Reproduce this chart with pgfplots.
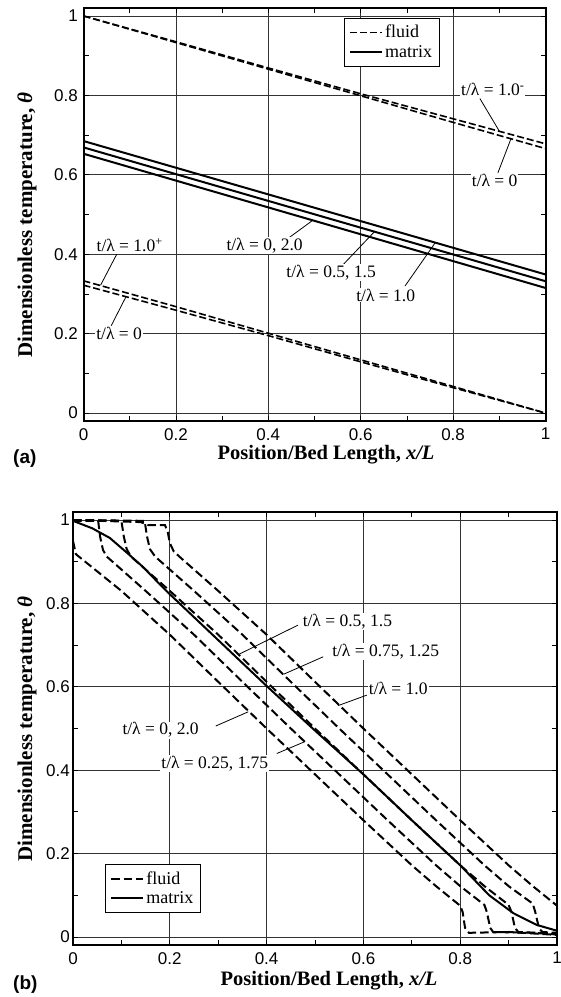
\documentclass[border=0pt]{standalone}
\usepackage{pgfplots}
\pgfplotsset{compat=1.18}
\usepackage{fontspec}
\setmainfont{Liberation Serif}
\setsansfont{Liberation Sans}

\tikzset{
  fl/.style={black, line width=2pt, dash pattern=on 8.5pt off 4pt},
  fla/.style={black, line width=1.6pt, dash pattern=on 7pt off 3pt},
  mx/.style={black, line width=2pt},
  ann/.style={font=\fontsize{17.5}{18}\selectfont, fill=white, inner sep=1pt},
  lead/.style={black, line width=0.8pt},
}
\pgfplotsset{
  panel/.style={
    scale only axis,
    xmin=0, xmax=1,
    xtick={0,0.2,0.4,0.6,0.8,1},
    xticklabels={0,0.2,0.4,0.6,0.8,1},
    ytick={0,0.2,0.4,0.6,0.8,1},
    yticklabels={0,0.2,0.4,0.6,0.8,1},
    minor xtick={0.1,0.3,0.5,0.7,0.9},
    minor ytick={0.1,0.3,0.5,0.7,0.9},
    grid=major,
    major grid style={black!80, line width=0.8pt},
    axis line style={line width=2pt},
    every tick/.style={black, line width=0.8pt},
    major tick length=5pt,
    minor tick length=5pt,
    tick align=inside,
    ticklabel style={font=\fontsize{17}{17}\selectfont\sffamily, inner sep=1pt},
    xticklabel style={yshift=-6pt},
    legend cell align=left,
    legend image code/.code={\draw[#1] (0pt,0pt) -- (32pt,0pt);},
    legend style={draw=black, line width=0.8pt, fill=white,
      font=\fontsize{18}{20}\selectfont, inner xsep=5pt, inner ysep=5pt, row sep=2pt},
  },
}

\begin{document}
\begin{tikzpicture}
\useasboundingbox (0pt,0pt) rectangle (561pt,997pt);

% ---------------- panel (a)
\begin{axis}[panel, at={(83.5pt,576pt)}, anchor=south west,
  width=462pt, height=413pt, ymin=-0.02, ymax=1.02,
  yticklabel style={xshift=-4.5pt},
  legend style={at={(axis cs:0.563,0.995)}, anchor=north west}]
\addlegendimage{fla}\addlegendentry{fluid}
\addlegendimage{mx}\addlegendentry{matrix}
% fluid, upper pair (t/lambda = 1.0- and 0)
\addplot[fla, forget plot] coordinates {(0,1.0) (0.2,0.935) (0.4,0.869) (0.6,0.804) (0.8,0.741) (1,0.678)};
\addplot[fla, forget plot] coordinates {(0,1.0) (0.2,0.933) (0.4,0.866) (0.6,0.799) (0.8,0.732) (1,0.666)};
% matrix (t/lambda = 1.0; 0.5,1.5; 0,2.0)
\addplot[mx, forget plot] coordinates {(0,0.685) (1,0.349)};
\addplot[mx, forget plot] coordinates {(0,0.669) (1,0.332)};
\addplot[mx, forget plot] coordinates {(0,0.653) (1,0.315)};
% fluid, lower pair (t/lambda = 1.0+ and 0)
\addplot[fla, forget plot] coordinates {(0,0.333) (0.2,0.268) (0.4,0.201) (0.6,0.134) (0.8,0.067) (1,0.0)};
\addplot[fla, forget plot] coordinates {(0,0.322) (0.2,0.259) (0.4,0.195) (0.6,0.129) (0.8,0.064) (1,0.0)};
% leaders
\draw[lead] (axis cs:0.858,0.792) -- (axis cs:0.900,0.710);
\draw[lead] (axis cs:0.897,0.605) -- (axis cs:0.925,0.690);
\draw[lead] (axis cs:0.072,0.400) -- (axis cs:0.037,0.322);
\draw[lead] (axis cs:0.060,0.220) -- (axis cs:0.092,0.293);
\draw[lead] (axis cs:0.443,0.440) -- (axis cs:0.497,0.486);
\draw[lead] (axis cs:0.563,0.375) -- (axis cs:0.630,0.457);
\draw[lead] (axis cs:0.696,0.320) -- (axis cs:0.762,0.430);
% labels
\node[ann] at (axis cs:0.886,0.814) {t/λ = 1.0\textsuperscript{-}};
\node[ann] at (axis cs:0.890,0.585) {t/λ = 0};
\node[ann] at (axis cs:0.100,0.423) {t/λ = 1.0\textsuperscript{+}};
\node[ann] at (axis cs:0.077,0.200) {t/λ = 0};
\node[ann] at (axis cs:0.392,0.421) {t/λ = 0, 2.0};
\node[ann] at (axis cs:0.536,0.353) {t/λ = 0.5, 1.5};
\node[ann] at (axis cs:0.654,0.297) {t/λ = 1.0};
\end{axis}

% ---------------- panel (b)
\begin{axis}[panel, at={(73pt,52pt)}, anchor=south west,
  width=484pt, height=433pt, ymin=-0.0192, ymax=1.0192,
  yticklabel style={xshift=-2pt},
  legend style={at={(axis cs:0.066,0.175)}, anchor=north west}]
\addlegendimage{fl}\addlegendentry{fluid}
\addlegendimage{mx}\addlegendentry{matrix}
% fluid t/lambda = 0, 2.0
\addplot[fl, forget plot] coordinates {(0,0.95) (0.006,0.918) (0.1,0.83) (0.2,0.725) (0.3,0.612) (0.4,0.5) (0.5,0.39) (0.6,0.28) (0.7,0.172) (0.75,0.122) (0.8,0.075) (0.805,0.06) (0.81,0.022) (0.818,0.01) (0.9,0.012) (1.0,0.005)};
% fluid t/lambda = 0.25, 1.75
\addplot[fl, forget plot] coordinates {(0,0.998) (0.052,0.998) (0.056,0.96) (0.062,0.928) (0.07,0.912) (0.15,0.83) (0.25,0.725) (0.35,0.612) (0.45,0.5) (0.55,0.39) (0.65,0.28) (0.75,0.172) (0.8,0.122) (0.85,0.077) (0.855,0.06) (0.862,0.022) (0.868,0.012) (0.95,0.01) (1.0,0.006)};
% fluid t/lambda = 0.5, 1.5
\addplot[fl, forget plot] coordinates {(0,1.0) (0.1,0.998) (0.105,0.96) (0.111,0.93) (0.12,0.912) (0.2,0.83) (0.3,0.725) (0.4,0.612) (0.5,0.5) (0.6,0.39) (0.7,0.28) (0.8,0.172) (0.85,0.122) (0.9,0.077) (0.906,0.06) (0.913,0.022) (0.92,0.012) (1.0,0.008)};
% fluid t/lambda = 0.75, 1.25
\addplot[fl, forget plot] coordinates {(0,1.0) (0.148,0.998) (0.153,0.96) (0.159,0.93) (0.17,0.912) (0.25,0.83) (0.35,0.725) (0.45,0.612) (0.55,0.5) (0.65,0.39) (0.75,0.28) (0.85,0.172) (0.9,0.122) (0.95,0.08) (0.955,0.06) (0.963,0.02) (0.97,0.012) (1.0,0.01)};
% fluid t/lambda = 1.0
\addplot[fl, forget plot] coordinates {(0,1.0) (0.14,0.995) (0.155,0.988) (0.19,0.988) (0.196,0.97) (0.2,0.945) (0.208,0.925) (0.22,0.912) (0.3,0.83) (0.4,0.725) (0.5,0.612) (0.6,0.5) (0.7,0.39) (0.8,0.28) (0.9,0.172) (0.95,0.122) (1.0,0.075)};
% matrix
\addplot[mx, forget plot] coordinates {(0,0.998) (0.04,0.98) (0.076,0.957) (0.11,0.923) (0.145,0.887) (0.18,0.845) (0.2,0.822) (0.3,0.712) (0.4,0.602) (0.5,0.495) (0.6,0.39) (0.7,0.28) (0.8,0.172) (0.86,0.1) (0.91,0.057) (0.958,0.029) (1.0,0.015)};
% leaders
\draw[lead] (axis cs:0.465,0.748) -- (axis cs:0.343,0.678);
\draw[lead] (axis cs:0.517,0.672) -- (axis cs:0.435,0.630);
\draw[lead] (axis cs:0.607,0.580) -- (axis cs:0.548,0.555);
\draw[lead] (axis cs:0.295,0.506) -- (axis cs:0.362,0.540);
\draw[lead] (axis cs:0.421,0.440) -- (axis cs:0.478,0.468);
% labels
\node[ann] at (axis cs:0.567,0.756) {t/λ = 0.5, 1.5};
\node[ann] at (axis cs:0.646,0.684) {t/λ = 0.75, 1.25};
\node[ann] at (axis cs:0.672,0.595) {t/λ = 1.0};
\node[ann] at (axis cs:0.181,0.496) {t/λ = 0, 2.0};
\node[ann] at (axis cs:0.293,0.4165) {t/λ = 0.25, 1.75};
\end{axis}

% ---------------- outer labels
\node[font=\fontsize{20.5}{21}\selectfont\bfseries, anchor=base, inner sep=0pt] at (326pt,537.5pt) {Position/Bed Length, \textit{x/L}};
\node[font=\fontsize{19}{19}\selectfont\sffamily\bfseries, anchor=base west, inner sep=0pt] at (13pt,533pt) {(a)};
\node[rotate=90, font=\fontsize{21}{21}\selectfont\bfseries] at (27pt,772pt) {Dimensionless temperature,\ \textit{θ}};

\node[font=\fontsize{20.5}{21}\selectfont\bfseries, anchor=base, inner sep=0pt] at (329pt,12pt) {Position/Bed Length, \textit{x/L}};
\node[font=\fontsize{19}{19}\selectfont\sffamily\bfseries, anchor=base west, inner sep=0pt] at (13pt,8pt) {(b)};
\node[rotate=90, font=\fontsize{21}{21}\selectfont\bfseries] at (27pt,268pt) {Dimensionless temperature,\ \textit{θ}};
\end{tikzpicture}
\end{document}
